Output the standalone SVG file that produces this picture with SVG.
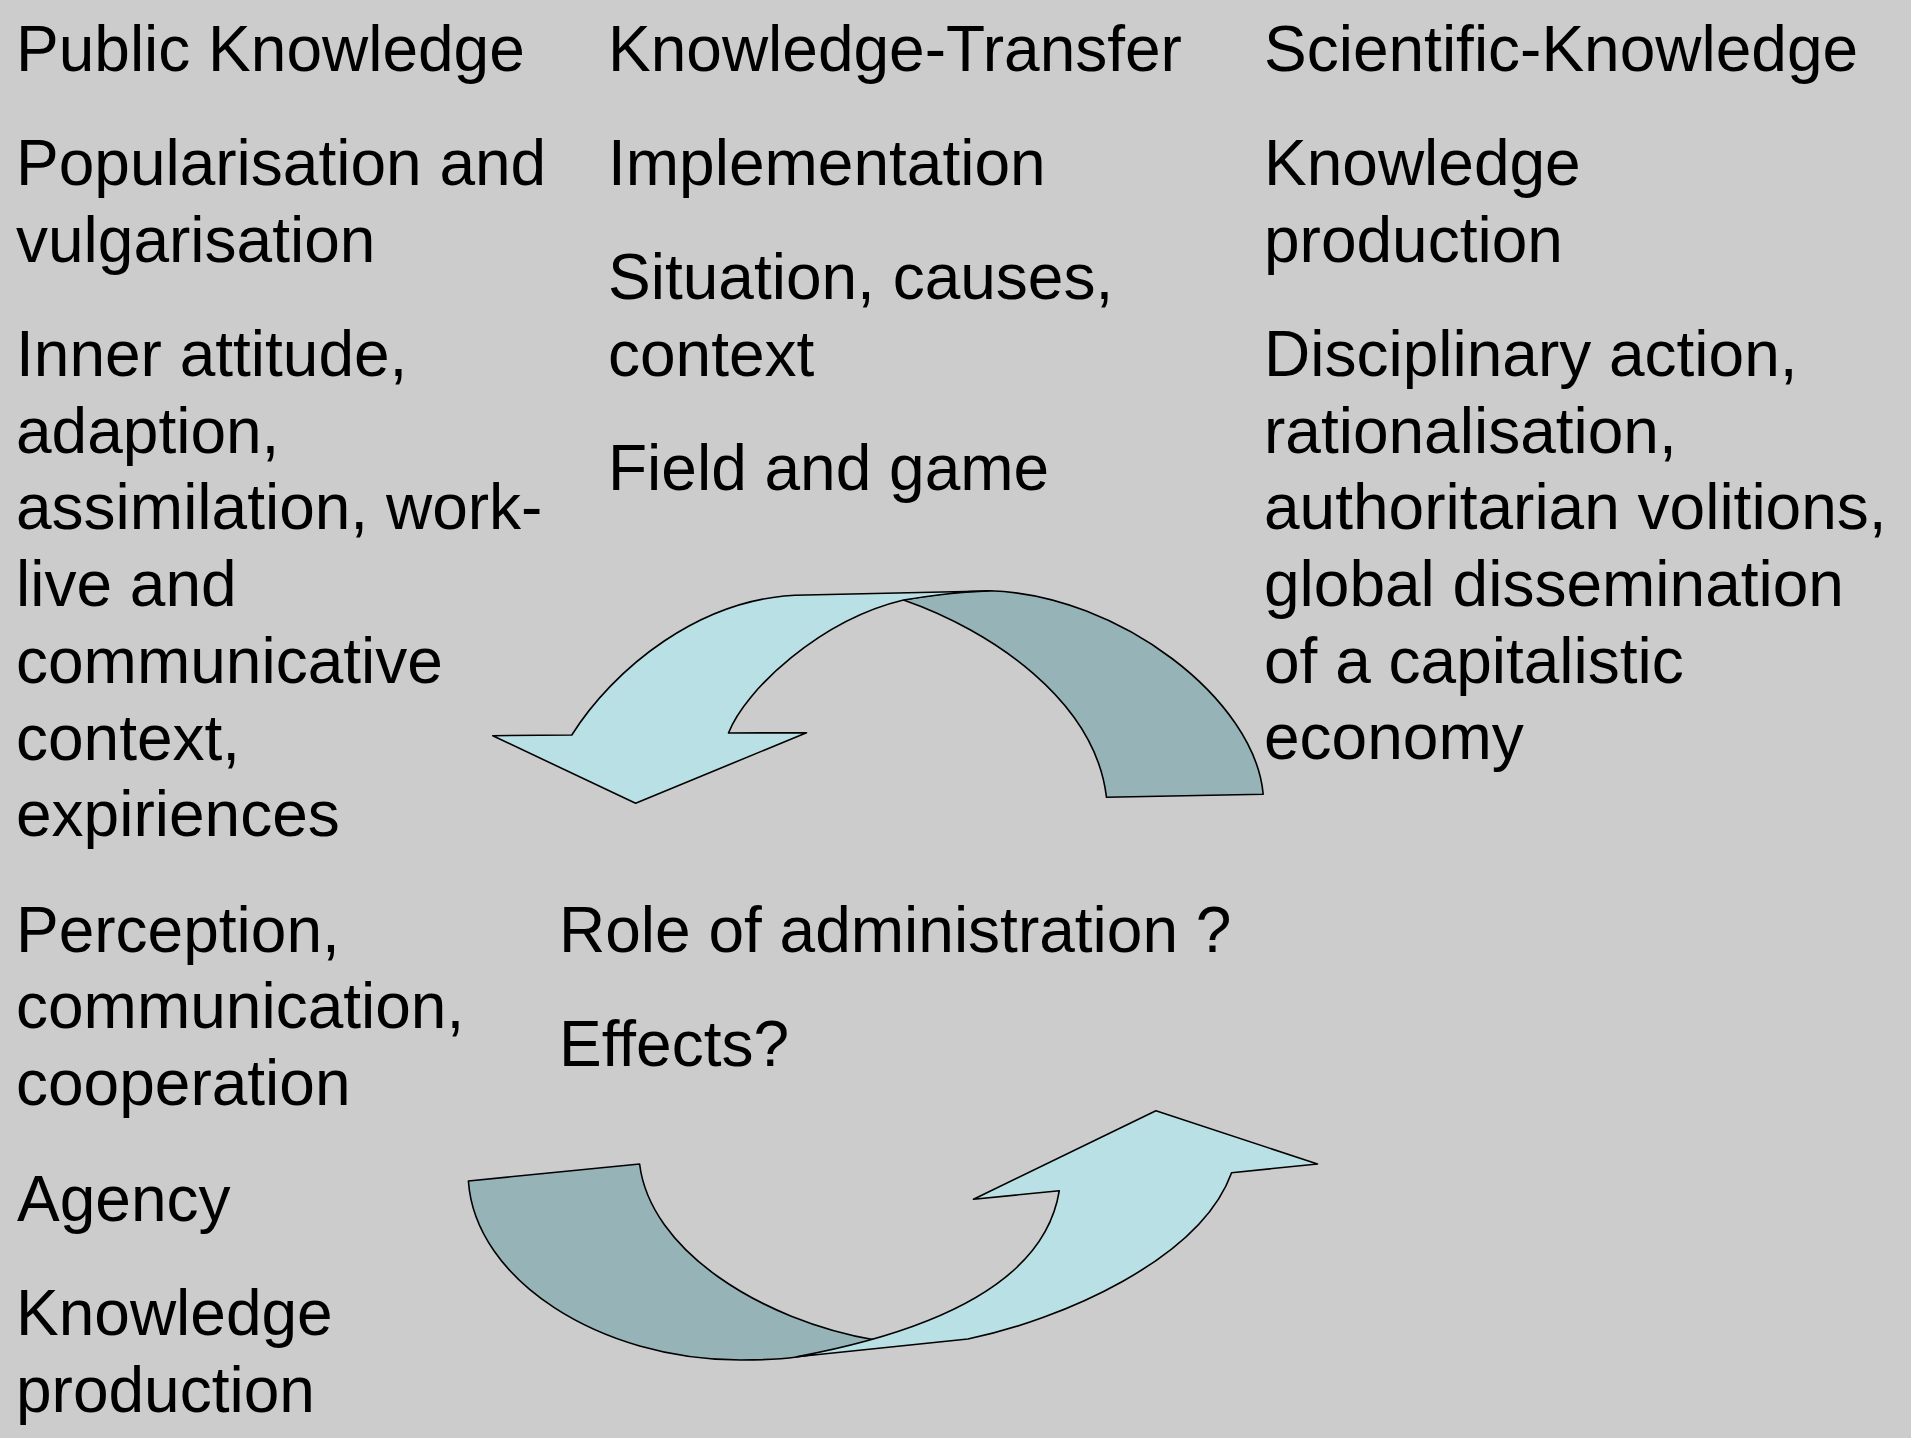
<svg xmlns="http://www.w3.org/2000/svg" width="1911" height="1438" viewBox="0 0 1911 1438">
<style>
text{font-family:"Liberation Sans",Arial,sans-serif;font-size:64px;fill:#000}
.lt{fill:#B9E0E4;stroke:#000;stroke-width:1.6;stroke-linejoin:round}
.dk{fill:#96B3B7;stroke:#000;stroke-width:1.6;stroke-linejoin:round}
</style>
<rect width="1911" height="1438" fill="#CCCCCC"/>
<g id="connectors">
<g id="arrow-top">
<path class="dk" d="M903.5,600 C990,630 1095,700 1106.5,797.3 L1263.2,794.3 C1255,700 1120,595 990,590.7 C960,591 930,595 903.5,600 Z"/>
<path class="lt" d="M492.8,735.7 L571.8,735 C612,671 700,595 806,595 L988,591 C955,592 928,596 903.5,600 C820,620 745,690 728.5,733 L806.5,732.7 L635.6,803.3 Z"/>
</g>
<g id="arrow-bottom">
<path class="dk" d="M468.4,1181 L639.6,1164 C650,1250 760,1320 875.3,1340 C850,1348 820,1354 796.7,1357 C775,1360 760,1360 740.6,1360 C600,1360 475,1280 468.4,1181 Z"/>
<path class="lt" d="M796.7,1356.7 L967.9,1339 C1060,1320 1200,1260 1231.6,1172.7 L1317.5,1164 L1155.9,1110.7 L973.5,1199.3 L1059.3,1190.7 C1045,1280 940,1330 796.7,1356.7 Z"/>
</g>
</g>
<g id="public-knowledge">
<text x="16" y="70.7">Public Knowledge</text>
<text x="16" y="185">Popularisation and</text>
<text x="16" y="261.7">vulgarisation</text>
<text x="16" y="376">Inner attitude,</text>
<text x="16" y="452.7">adaption,</text>
<text x="16" y="529.4">assimilation, work-</text>
<text x="16" y="606.1">live and</text>
<text x="16" y="682.8">communicative</text>
<text x="16" y="759.5">context,</text>
<text x="16" y="836.2">expiriences</text>
<text x="16" y="951.5">Perception,</text>
<text x="16" y="1028.2">communication,</text>
<text x="16" y="1104.6">cooperation</text>
<text x="17" y="1221">Agency</text>
<text x="16" y="1335">Knowledge</text>
<text x="16" y="1411.7">production</text>
</g>
<g id="knowledge-transfer">
<text x="608" y="70.7">Knowledge-Transfer</text>
<text x="608" y="185">Implementation</text>
<text x="608" y="299.3">Situation, causes,</text>
<text x="608" y="376">context</text>
<text x="608" y="490.3">Field and game</text>
</g>
<g id="scientific-knowledge">
<text x="1264" y="70.7">Scientific-Knowledge</text>
<text x="1264" y="185">Knowledge</text>
<text x="1264" y="261.7">production</text>
<text x="1264" y="376">Disciplinary action,</text>
<text x="1264" y="452.7">rationalisation,</text>
<text x="1264" y="529.4">authoritarian volitions,</text>
<text x="1264" y="606.1">global dissemination</text>
<text x="1264" y="682.8">of a capitalistic</text>
<text x="1264" y="759">economy</text>
</g>
<g id="administration">
<text x="559" y="951.5">Role of administration ?</text>
<text x="559" y="1065.8">Effects?</text>
</g>
</svg>
